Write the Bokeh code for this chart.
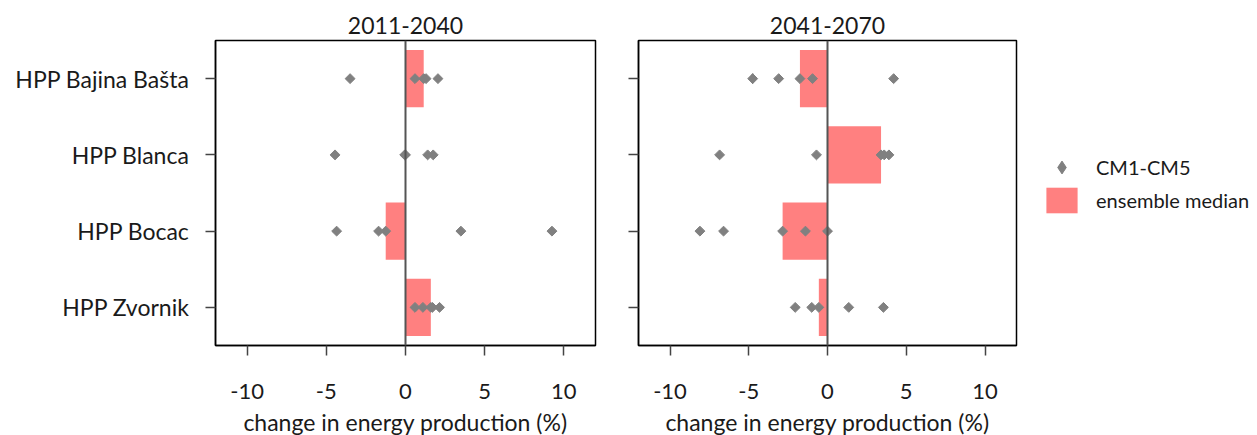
import numpy as np
from bokeh.plotting import figure
from bokeh.layouts import row
from bokeh.models import (Range1d, FactorRange, FixedTicker, Span, Legend,
                          LegendItem, ColumnDataSource, CustomJSTickFormatter)
from bokeh.embed import file_html
from bokeh.resources import INLINE

stations = ["HPP Bajina Bašta", "HPP Blanca", "HPP Bocac", "HPP Zvornik"]
periods = ["2011-2040", "2041-2070"]
x_ticks = [-10, -5, 0, 5, 10]

# climate model results CM1-CM5 (% change in energy production)
p1_bajina = [-3.5, 0.6, 1.15, 1.3, 2.05]
p1_blanca = [-4.45, -0.05, 0.0, 1.4, 1.75]
p1_bocac = [-4.35, -1.7, -1.25, 3.5, 9.25]
p1_zvornik = [0.6, 1.1, 1.6, 1.7, 2.15]

p2_bajina = [-4.75, -3.1, -1.75, -0.95, 4.2]
p2_blanca = [-6.85, -0.7, 3.4, 3.6, 3.9]
p2_bocac = [-8.1, -6.6, -2.85, -1.4, 0.0]
p2_zvornik = [-2.05, -1.0, -0.55, 1.35, 3.55]

FONT = "Lato"
TXT = "#1a1a1a"
GREY = "#808080"


def make_panel(title, series, first):
    pts_x, pts_y = [], []
    for st, vals in zip(stations, series):
        pts_x += vals
        pts_y += [st] * len(vals)
    med = [float(np.median(v)) for v in series]
    pts = ColumnDataSource(dict(x=pts_x, y=pts_y))
    bars = ColumnDataSource(dict(y=stations, right=med))

    p = figure(title=title, frame_width=380 if first else 378, frame_height=305,
               x_range=Range1d(-12, 12),
               y_range=FactorRange(factors=list(reversed(stations)), range_padding=0),
               output_backend="svg", toolbar_location=None,
               min_border_left=215 if first else 20,
               min_border_right=23 if first else 235,
               min_border_top=40, min_border_bottom=95)
    p.title.align = "center"
    p.title.text_font = FONT
    p.title.text_font_size = "23px"
    p.title.text_font_style = "normal"
    p.title.text_color = TXT
    p.title.standoff = 14

    p.xgrid.visible = False
    p.ygrid.visible = False
    p.outline_line_color = "black"
    p.outline_line_width = 1.5

    br = p.hbar(y="y", left=0, right="right", height=0.75, source=bars,
                fill_color="#ff8080", line_color=None)
    p.scatter(x="x", y="y", source=pts, marker="square", angle=np.pi / 4,
              size=7, fill_color=GREY, line_color=GREY)
    p.add_layout(Span(location=0, dimension="height", line_color="#555555",
                      line_width=2))

    xa = p.xaxis[0]
    xa.ticker = FixedTicker(ticks=x_ticks)
    xa.formatter = CustomJSTickFormatter(code="return String(tick)")
    xa.minor_tick_line_color = None
    xa.major_tick_out = 10
    xa.major_tick_in = 0
    xa.major_tick_line_color = "#444444"
    xa.major_tick_line_width = 1.5
    xa.axis_line_color = "black"
    xa.axis_line_width = 1.5
    xa.major_label_text_font = FONT
    xa.major_label_text_font_size = "22px"
    xa.major_label_text_color = TXT
    xa.major_label_standoff = 28
    xa.axis_label = "change in energy production (%)"
    xa.axis_label_text_font = FONT
    xa.axis_label_text_font_size = "23px"
    xa.axis_label_text_font_style = "normal"
    xa.axis_label_text_color = TXT
    xa.axis_label_standoff = 6

    ya = p.yaxis[0]
    ya.major_tick_out = 10
    ya.major_tick_in = 0
    ya.major_tick_line_color = "#444444"
    ya.major_tick_line_width = 1.5
    ya.axis_line_color = "black"
    ya.axis_line_width = 1.5
    if first:
        ya.major_label_text_font = FONT
        ya.major_label_text_font_size = "23px"
        ya.major_label_text_color = TXT
        ya.major_label_standoff = 16
    else:
        ya.formatter = CustomJSTickFormatter(code="return ''")
        ya.major_label_standoff = 0
    return p, br


p1, _ = make_panel(periods[0], [p1_bajina, p1_blanca, p1_bocac, p1_zvornik], True)
p2, br2 = make_panel(periods[1], [p2_bajina, p2_blanca, p2_bocac, p2_zvornik], False)

# legend proxy (diamond marker) placed on top of an existing CM point
proxy = p2.scatter(x=p2_bajina[:1], y=stations[:1], marker="diamond", size=10,
                   fill_color=GREY, line_color=GREY)

legend = Legend(items=[LegendItem(label="CM1-CM5", renderers=[proxy]),
                       LegendItem(label="ensemble median", renderers=[br2])],
                location=(26, 129), border_line_color=None,
                background_fill_color=None, padding=0, margin=0,
                glyph_width=39, glyph_height=32, spacing=1, label_standoff=15,
                label_text_font=FONT, label_text_font_size="20px",
                label_text_color=TXT)
p2.add_layout(legend, "right")

layout = row(p1, p2, spacing=0)
open("out.html", "w").write(file_html(layout, INLINE))
